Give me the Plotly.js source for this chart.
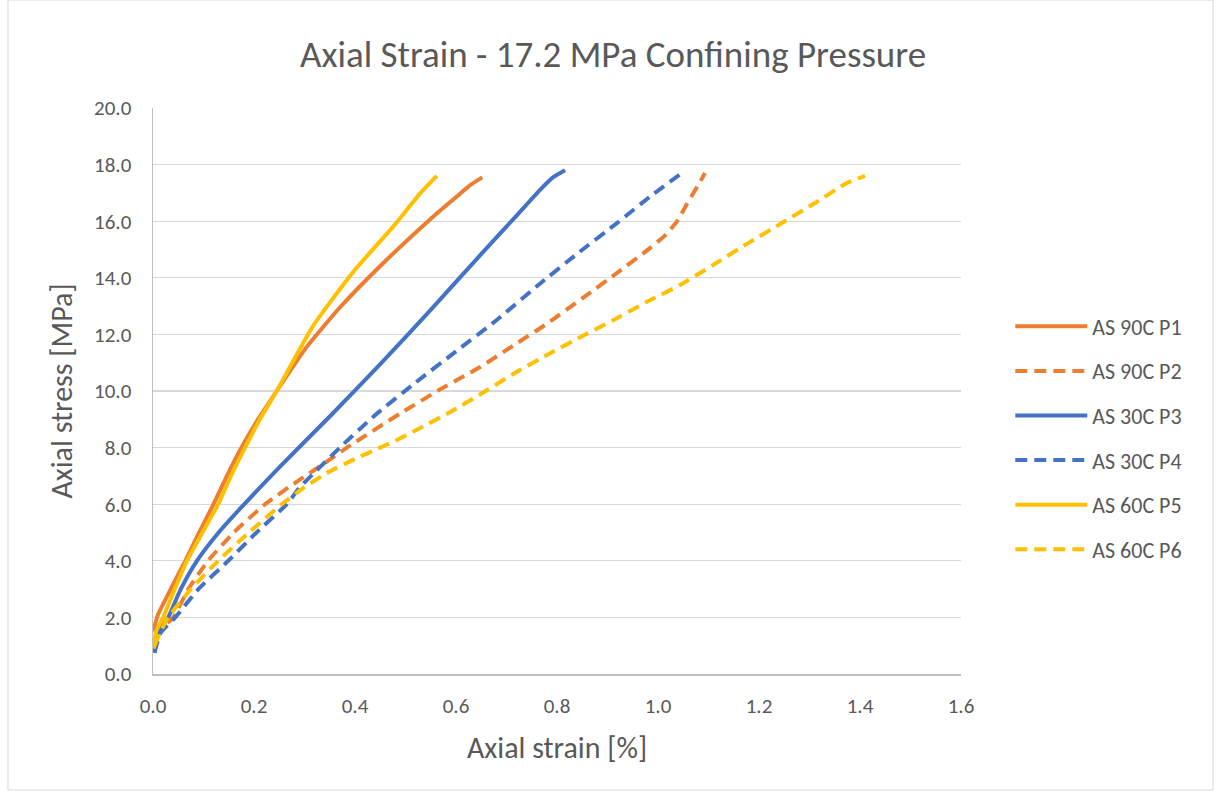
<!DOCTYPE html>
<html>
<head>
<meta charset="utf-8">
<script src="https://cdn.plot.ly/plotly-3.0.1.min.js"></script>
<style>
  html, body { margin: 0; padding: 0; background: #ffffff; }
  #chart { width: 1214px; height: 791px; }
</style>
</head>
<body>
<div id="chart"></div>
<script>
// Axial stress vs. axial strain, 17.2 MPa confining pressure
const seriesNames = ["AS 90C P1", "AS 90C P2", "AS 30C P3", "AS 30C P4", "AS 60C P5", "AS 60C P6"];

// AS 90C P1
const p1Strain = [0.000, 0.010, 0.035, 0.064, 0.090, 0.117, 0.145, 0.172, 0.208, 0.245, 0.304, 0.370, 0.449, 0.554, 0.600, 0.630, 0.652];
const p1Stress = [1.5, 2.1, 3.0, 4.0, 4.95, 5.9, 6.95, 7.9, 9.0, 10.0, 11.55, 12.95, 14.4, 16.15, 16.85, 17.3, 17.55];

// AS 90C P2
const p2Strain = [0.005, 0.015, 0.040, 0.070, 0.109, 0.160, 0.222, 0.285, 0.344, 0.384, 0.489, 0.568, 0.608, 0.648, 0.713, 0.782, 0.852, 0.921, 0.984, 1.014, 1.038, 1.057, 1.077, 1.093];
const p2Stress = [1.3, 1.6, 2.0, 3.0, 4.0, 5.0, 6.0, 6.8, 7.5, 8.0, 9.2, 10.05, 10.45, 10.85, 11.6, 12.4, 13.3, 14.2, 15.05, 15.5, 16.0, 16.6, 17.2, 17.7];

// AS 30C P3
const p3Strain = [0.003, 0.008, 0.030, 0.055, 0.087, 0.130, 0.178, 0.250, 0.350, 0.450, 0.549, 0.648, 0.720, 0.766, 0.792, 0.816];
const p3Stress = [0.75, 1.4, 2.0, 3.0, 4.0, 5.0, 5.95, 7.3, 9.1, 10.95, 12.85, 14.8, 16.2, 17.1, 17.55, 17.8];

// AS 30C P4
const p4Strain = [0.003, 0.015, 0.044, 0.090, 0.149, 0.205, 0.265, 0.291, 0.330, 0.370, 0.440, 0.520, 0.600, 0.680, 0.760, 0.840, 0.920, 0.990, 1.047];
const p4Stress = [0.75, 1.45, 2.0, 3.0, 4.0, 5.0, 6.0, 6.6, 7.3, 8.0, 9.15, 10.3, 11.4, 12.5, 13.7, 14.85, 15.95, 16.95, 17.7];

// AS 60C P5
const p5Strain = [0.002, 0.006, 0.020, 0.043, 0.067, 0.098, 0.129, 0.153, 0.178, 0.210, 0.245, 0.317, 0.396, 0.475, 0.530, 0.562];
const p5Stress = [0.9, 1.5, 2.0, 3.0, 4.0, 5.0, 6.0, 6.95, 7.85, 8.95, 10.0, 12.3, 14.2, 15.8, 17.0, 17.6];

// AS 60C P6
const p6Strain = [0.003, 0.015, 0.030, 0.075, 0.129, 0.190, 0.255, 0.300, 0.344, 0.400, 0.450, 0.475, 0.530, 0.588, 0.650, 0.713, 0.780, 0.846, 0.911, 0.978, 1.044, 1.109, 1.176, 1.242, 1.307, 1.374, 1.410];
const p6Stress = [1.0, 1.5, 2.0, 3.0, 4.0, 5.0, 6.0, 6.6, 7.1, 7.6, 8.0, 8.2, 8.7, 9.25, 9.9, 10.6, 11.27, 11.9, 12.5, 13.15, 13.75, 14.45, 15.2, 15.9, 16.6, 17.35, 17.6];

const xTickVals = [0, 0.2, 0.4, 0.6, 0.8, 1.0, 1.2, 1.4, 1.6];
const yTickVals = [0, 2, 4, 6, 8, 10, 12, 14, 16, 18, 20];

const ORANGE = "#ED7D31", BLUE = "#4472C4", GOLD = "#FFC000";
const DASH = "12px,7px";
const FONT = "Carlito, Calibri, Lato, 'Open Sans', sans-serif";
const TEXT = "#595959";

function curve(name, xs, ys, color, dash) {
  return {
    type: "scatter", mode: "lines", name: name, x: xs, y: ys,
    legendgroup: name,
    line: { color: color, width: 4, dash: dash, shape: "spline", smoothing: 0.5 },
    hoverinfo: "x+y+name"
  };
}

const data = [
  curve(seriesNames[0], p1Strain, p1Stress, ORANGE, "solid"),
  curve(seriesNames[1], p2Strain, p2Stress, ORANGE, DASH),
  curve(seriesNames[2], p3Strain, p3Stress, BLUE, "solid"),
  curve(seriesNames[3], p4Strain, p4Stress, BLUE, DASH),
  curve(seriesNames[4], p5Strain, p5Stress, GOLD, "solid"),
  curve(seriesNames[5], p6Strain, p6Stress, GOLD, DASH)
];

const layout = {
  width: 1214, height: 791,
  paper_bgcolor: "#ffffff", plot_bgcolor: "#ffffff",
  margin: { l: 153, r: 253, t: 108, b: 117 },
  font: { family: FONT, color: TEXT, size: 21 },
  title: {
    text: "Axial Strain - 17.2 MPa Confining Pressure",
    font: { family: FONT, size: 37, color: TEXT },
    x: 0.505, xref: "container", y: 0.932, yref: "container", yanchor: "middle"
  },
  xaxis: {
    range: [0, 1.6], tickvals: xTickVals, tickformat: ".1f",
    showgrid: false, zeroline: false,
    showline: true, linecolor: "#bfbfbf", linewidth: 1.5,
    ticks: "", ticklabelstandoff: 12, tickfont: { size: 21, color: TEXT },
    title: { text: "Axial strain [%]", font: { size: 30, color: TEXT }, standoff: 19 }
  },
  yaxis: {
    range: [0, 20], tickvals: yTickVals, tickformat: ".1f",
    showgrid: true, gridcolor: "#d9d9d9", gridwidth: 1.3, zeroline: false,
    showline: true, linecolor: "#bfbfbf", linewidth: 1.5,
    ticks: "", ticklabelstandoff: 16, tickfont: { size: 21, color: TEXT },
    title: { text: "Axial stress [MPa]", font: { size: 30, color: TEXT }, standoff: 12 }
  },
  legend: {
    x: 1.061, xanchor: "left", y: 0.417, yanchor: "middle",
    font: { size: 22, color: TEXT },
    tracegroupgap: 13, itemwidth: 72,
    bgcolor: "rgba(0,0,0,0)"
  },
  shapes: [{
    type: "rect", xref: "paper", yref: "paper",
    x0: (8 - 153) / 808, x1: (1213 - 153) / 808,
    y0: (674 - 790) / 566, y1: (674 - 0) / 566,
    line: { color: "#d9d9d9", width: 1 }, fillcolor: "rgba(0,0,0,0)", layer: "below"
  }],
  showlegend: true
};

Plotly.newPlot("chart", data, layout, { displayModeBar: false, staticPlot: true });
</script>
</body>
</html>
